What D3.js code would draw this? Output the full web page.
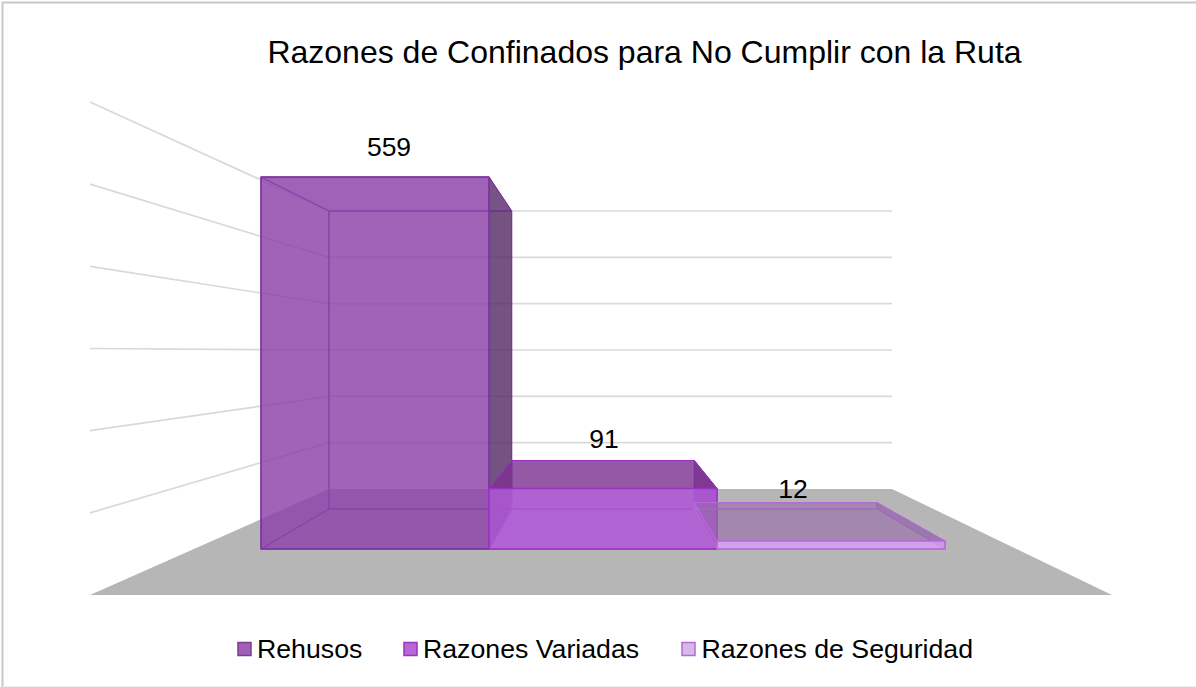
<!DOCTYPE html>
<html><head><meta charset="utf-8">
<script src="https://cdn.jsdelivr.net/npm/d3@7"></script>
<style>html,body{margin:0;padding:0;background:#fff}svg{display:block}text{font-family:"Liberation Sans",Arial,sans-serif;fill:#000}</style>
</head><body><svg id="c" width="1196" height="687"></svg>
<script>
const title = "Razones de Confinados para No Cumplir con la Ruta";
const categories = ["Rehusos", "Razones Variadas", "Razones de Seguridad"];
const values = [559, 91, 12];
const gridTicks = [0, 100, 200, 300, 400, 500, 600];
const frontFill = ["#8e43aa", "#af58d6", "#d79bf5"];
const frontOpacity = [0.82, 0.88, 0.8];
const topFill = ["#8e43aa", "#7a318e", "#9569a7"];
const topOpacity = [0.1, 0.8, 0.6];
const sideFill = ["#4f2560", "#7a318e", "#9569a7"];
const sideOpacity = [0.78, 0.8, 0.5];
const edge = ["#7b339e", "#9a33c0", "#b46ad8"];

const svg = d3.select("#c");
svg.append("rect").attr("width",1196).attr("height",687).attr("fill","#fff");
const frame = d3.line();
svg.append("path").attr("d",frame([[2.5,687],[2.5,2.5],[1196,2.5]])).attr("fill","none").attr("stroke","#c8c8c8").attr("stroke-width",2);
svg.append("path").attr("d",frame([[3,686.5],[1196,686.5]])).attr("fill","none").attr("stroke","#eeeeee").attr("stroke-width",1);

// wall and floor planes
const leftY = d3.scaleLinear().domain([0,600]).range([595,102]);
const backY = d3.scaleLinear().domain([0,600]).range([489,211]);
const floorFrontX = d3.scaleLinear().domain([0,1]).range([90,1112]);
const floorBackX = d3.scaleLinear().domain([0,1]).range([329,892]);
// bar planes
const barFrontX = d3.scaleBand().domain(categories).range([261,945]);
const barBackX = d3.scaleBand().domain(categories).range([329,877]);
const barFrontY = d3.scaleLinear().domain([0,559]).range([549,177]);
const barBackY = d3.scaleLinear().domain([0,559]).range([509,211]);

const poly = pts => d3.line()(pts) + "Z";

svg.append("g").selectAll("path").data(gridTicks.slice(1)).join("path")
  .attr("d", v => d3.line()([[floorFrontX(0),leftY(v)],[floorBackX(0),backY(v)],[floorBackX(1),backY(v)]]))
  .attr("fill","none").attr("stroke","#d9d9d9").attr("stroke-width",1.7);

svg.append("path")
  .attr("d", poly([[floorFrontX(0),leftY(0)],[floorBackX(0),backY(0)],[floorBackX(1),backY(0)],[floorFrontX(1),leftY(0)]]))
  .attr("fill","#b6b6b6");

const bars = svg.append("g");
categories.forEach((c,i) => {
  const v = values[i];
  const fl = barFrontX(c), fr = fl + barFrontX.bandwidth();
  const bl = barBackX(c), br = bl + barBackX.bandwidth();
  const f0 = barFrontY(0), ft = barFrontY(v), b0 = barBackY(0), bt = barBackY(v);
  const faces = [
    {p:[[bl,bt],[br,bt],[br,b0],[bl,b0]], fill:frontFill[i], op:.08, sw:1},
    {p:[[fl,f0],[bl,b0],[br,b0],[fr,f0]], fill:frontFill[i], op:.05, sw:1},
    {p:[[fl,ft],[bl,bt],[bl,b0],[fl,f0]], fill:frontFill[i], op:.08, sw:1},
    {p:[[fr,ft],[br,bt],[br,b0],[fr,f0]], fill:sideFill[i], op:sideOpacity[i], sw:1},
    {p:[[fl,ft],[fr,ft],[br,bt],[bl,bt]], fill:topFill[i], op:topOpacity[i], sw:1},
    {p:[[fl,ft],[fr,ft],[fr,f0],[fl,f0]], fill:frontFill[i], op:frontOpacity[i], sw:1.5}
  ];
  bars.append("g").selectAll("path").data(faces).join("path")
    .attr("d", d => poly(d.p)).attr("fill", d => d.fill).attr("fill-opacity", d => d.op)
    .attr("stroke", edge[i]).attr("stroke-width", d => d.sw).attr("stroke-linejoin","round");
});

const labelPos = [[389,156],[604,448],[793,498]];
svg.append("g").selectAll("text").data(values).join("text")
  .attr("x",(d,i)=>labelPos[i][0]).attr("y",(d,i)=>labelPos[i][1])
  .attr("text-anchor","middle").attr("font-size",26.5).text(d=>d);

svg.append("text").attr("x",644.5).attr("y",62.5).attr("text-anchor","middle").attr("font-size",32).text(title);

const swatchX = [237,403,681];
const textX = [257,423,701.5];
const legendFill = ["#a25fb5","#b866d8","#d8b8ea"];
const legendEdge = ["#7b3f90","#9a33c0","#b46ad8"];
const lg = svg.append("g").selectAll("g").data(categories).join("g");
lg.append("rect").attr("x",(d,i)=>swatchX[i]+1).attr("y",642.5).attr("width",13).attr("height",13)
  .attr("fill",(d,i)=>legendFill[i]).attr("stroke",(d,i)=>legendEdge[i]).attr("stroke-width",1.5);
lg.append("text").attr("x",(d,i)=>textX[i]).attr("y",658).attr("font-size",26.7).text(d=>d);
</script></body></html>
